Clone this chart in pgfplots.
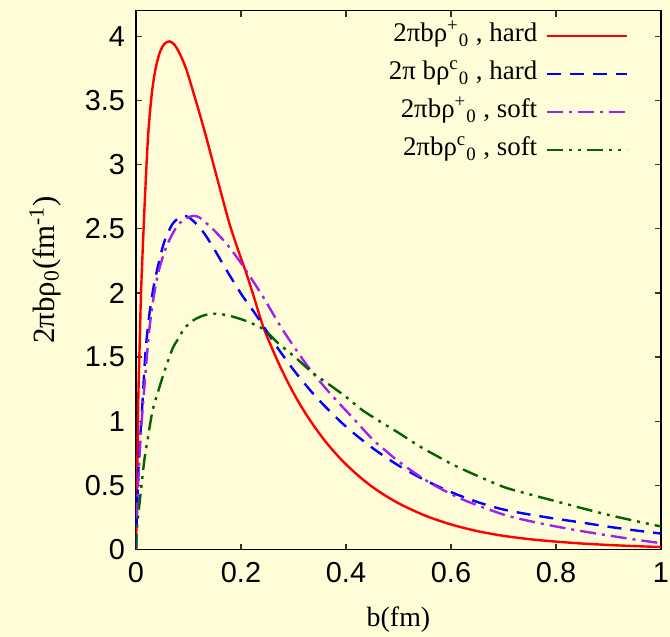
\documentclass[border=0pt]{standalone}
\usepackage{pgfplots}
\pgfplotsset{compat=1.18}
\usepackage{pgfplotstable}
\usepackage{fontspec}
\setmainfont{Liberation Serif}
\newfontfamily\ticksans{Liberation Sans}
\usetikzlibrary{backgrounds}

\definecolor{bgyellow}{RGB}{255,253,215}
\definecolor{gpred}{RGB}{255,0,0}
\definecolor{gpblue}{RGB}{0,0,255}
\definecolor{gppurple}{RGB}{160,32,240}
\definecolor{gpgreen}{RGB}{0,100,0}

% 2 pi b rho_0^+ , hard
\pgfplotstableread{
b rho
0 0
0.002 0.5
0.004 1.1
0.007 1.6
0.01 2.05
0.0166 2.70
0.023 3.22
0.03 3.55
0.037 3.74
0.045 3.87
0.054 3.94
0.064 3.96
0.074 3.93
0.085 3.85
0.096 3.74
0.108 3.58
0.121 3.40
0.134 3.21
0.147 3.01
0.162 2.78
0.178 2.54
0.194 2.34
0.21 2.155
0.226 1.95
0.242 1.74
0.26 1.56
0.28 1.38
0.3 1.22
0.32 1.08
0.34 0.957
0.36 0.847
0.38 0.750
0.4 0.664
0.43 0.553
0.46 0.460
0.5 0.361
0.55 0.266
0.6 0.196
0.65 0.144
0.7 0.107
0.75 0.081
0.8 0.062
0.85 0.047
0.9 0.036
0.95 0.027
1.0 0.02
}\hardplus

% 2 pi b rho_0^c , hard
\pgfplotstableread{
b rho
0 0
0.002 0.3
0.004 0.56
0.007 0.80
0.01 1.0
0.013 1.19
0.0166 1.45
0.0198 1.62
0.026 1.85
0.036 2.10
0.051 2.36
0.06 2.46
0.07 2.54
0.08 2.58
0.09 2.60
0.1 2.59
0.112 2.55
0.123 2.50
0.134 2.44
0.152 2.32
0.172 2.18
0.19 2.06
0.204 1.97
0.225 1.85
0.245 1.727
0.27 1.570
0.3 1.401
0.33 1.250
0.36 1.116
0.4 0.958
0.45 0.793
0.5 0.655
0.55 0.542
0.6 0.448
0.65 0.371
0.7 0.312
0.75 0.273
0.8 0.240
0.85 0.210
0.9 0.178
0.95 0.150
1.0 0.125
}\hardc

% 2 pi b rho_0^+ , soft
\pgfplotstableread{
b rho
0 0
0.002 0.28
0.004 0.5
0.007 0.74
0.01 0.95
0.0166 1.30
0.025 1.70
0.033 1.95
0.042 2.15
0.055 2.33
0.067 2.44
0.08 2.53
0.095 2.58
0.109 2.60
0.12 2.59
0.135 2.54
0.153 2.47
0.175 2.37
0.198 2.245
0.22 2.11
0.242 1.97
0.265 1.81
0.283 1.69
0.325 1.44
0.369 1.22
0.413 1.026
0.451 0.857
0.47 0.79
0.496 0.70
0.53 0.60
0.566 0.506
0.623 0.389
0.7 0.273
0.75 0.222
0.8 0.18
0.85 0.143
0.9 0.11
0.95 0.078
1.0 0.05
}\softplus

% 2 pi b rho_0^c , soft
\pgfplotstableread{
b rho
0 0
0.001 0.12
0.004 0.26
0.0103 0.49
0.016 0.70
0.023 0.88
0.032 1.09
0.045 1.27
0.055 1.40
0.061 1.47
0.07 1.57
0.08 1.64
0.09 1.71
0.102 1.766
0.115 1.80
0.13 1.826
0.15 1.838
0.175 1.825
0.204 1.79
0.225 1.755
0.245 1.71
0.273 1.60
0.3 1.51
0.337 1.376
0.37 1.28
0.40 1.19
0.43 1.09
0.464 1.0
0.5 0.91
0.54 0.805
0.575 0.725
0.61 0.649
0.674 0.532
0.706 0.48
0.75 0.43
0.8 0.376
0.85 0.322
0.9 0.27
0.95 0.224
1.0 0.18
}\softc

\begin{document}
\begin{tikzpicture}
\begin{axis}[
    scale only axis,
    width=262.5bp, height=269.5bp,
    xmin=0, xmax=1, ymin=0, ymax=4.2,
    xtick={0,0.2,0.4,0.6,0.8,1},
    ytick={0,0.5,1,1.5,2,2.5,3,3.5,4},
    axis line style={line width=0.8pt},
    major tick length=3bp,
    tick style={line width=0.6pt, black!80},
    /pgf/number format/assume math mode=true,
    ticklabel style={font=\ticksans\fontsize{14.5}{17}\selectfont},
    xticklabel style={yshift=-3bp},
    yticklabel style={xshift=-2bp},
    xlabel={b(fm)},
    xlabel style={font=\fontsize{14}{16}\selectfont, at={(rel axis cs:0.5,0)}, anchor=center, yshift=-35bp},
    ylabel={2πbρ\textsubscript{0}(fm\textsuperscript{-1})},
    ylabel style={font=\fontsize{15.5}{18}\selectfont, at={(rel axis cs:0,0.519)}, anchor=center, yshift=45.5bp},
    legend cell align=right,
    legend plot pos=right,
    legend style={draw=none, fill=none, at={(rel axis cs:1,1)}, anchor=north east,
        xshift=-13bp, yshift=-3bp, row sep=4bp, /tikz/column sep=3.5bp,
        font=\fontsize{13.5}{15}\selectfont,
        nodes={inner sep=1bp, text height=9.5bp, text depth=3.5bp}},
    legend image code/.code={\draw[#1] (0bp,0bp) -- (40bp,0bp);},
]
\addplot[gpred, line width=1.2bp, smooth] table[x=b, y=rho] {\hardplus};
\addlegendentry{2πbρ\textsuperscript{+}\textsubscript{0} , hard}
\addplot[gpblue, line width=1.2bp, smooth, dash pattern=on 7bp off 4.5bp] table[x=b, y=rho] {\hardc};
\addlegendentry{2π bρ\textsuperscript{c}\textsubscript{0} , hard}
\addplot[gppurple, line width=1.2bp, smooth, dash pattern=on 8bp off 3bp on 1.5bp off 3bp] table[x=b, y=rho] {\softplus};
\addlegendentry{2πbρ\textsuperscript{+}\textsubscript{0} , soft}
\addplot[gpgreen, line width=1.2bp, smooth, dash pattern=on 8bp off 3bp on 1.5bp off 3bp on 1.5bp off 3bp] table[x=b, y=rho] {\softc};
\addlegendentry{2πbρ\textsuperscript{c}\textsubscript{0} , soft}
\coordinate (sw) at (rel axis cs:0,0);
\coordinate (ne) at (rel axis cs:1,1);
\end{axis}
\begin{pgfonlayer}{background}
\fill[bgyellow] ([xshift=-68bp,yshift=-43.5bp]sw) rectangle ([xshift=4.5bp,yshift=5.3bp]ne);
\end{pgfonlayer}
\pgfresetboundingbox
\path[use as bounding box] ([xshift=-68bp,yshift=-43.5bp]sw) rectangle ([xshift=4.5bp,yshift=5.3bp]ne);
\end{tikzpicture}
\end{document}
